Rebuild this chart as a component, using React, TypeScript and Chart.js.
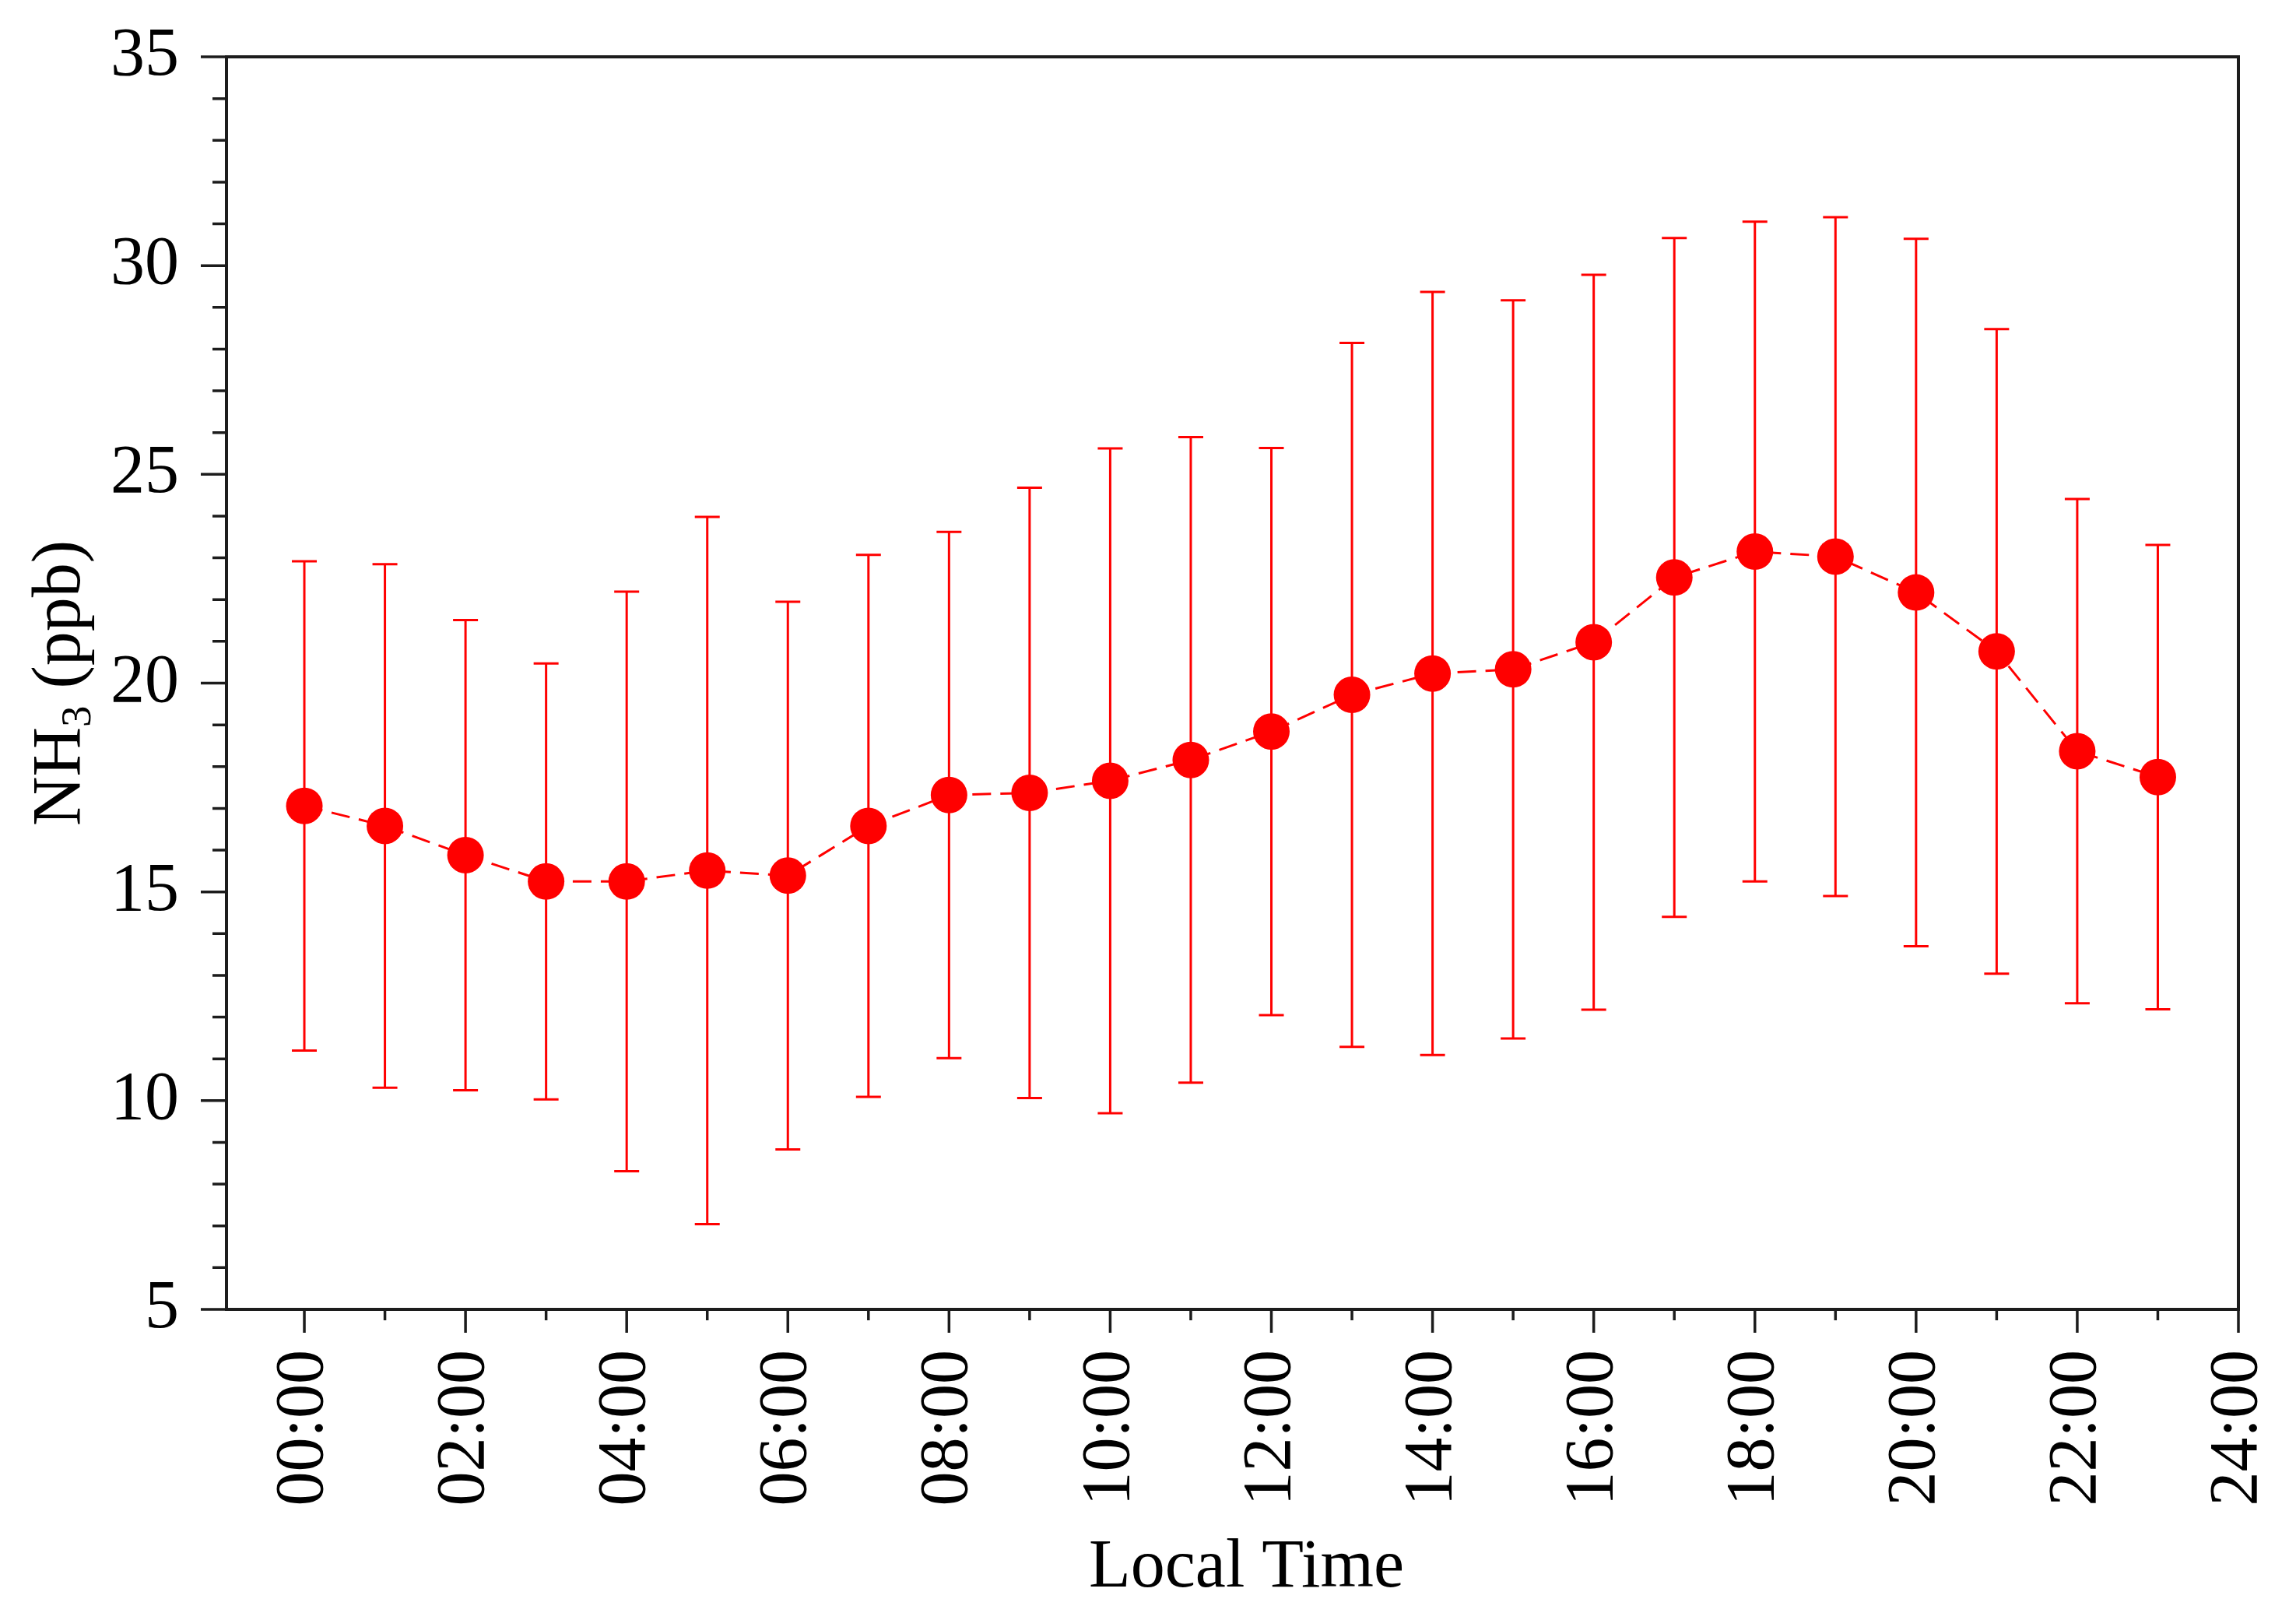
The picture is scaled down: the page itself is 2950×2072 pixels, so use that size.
import React, { useEffect, useRef } from 'react';
import { Chart, registerables } from 'chart.js';

Chart.register(...registerables);

// ---- data ----
const hours = [0, 1, 2, 3, 4, 5, 6, 7, 8, 9, 10, 11, 12, 13, 14, 15, 16, 17, 18, 19, 20, 21, 22, 23];
const nh3Mean = [
  17.06, 16.58, 15.88, 15.25, 15.25, 15.51, 15.39, 16.58, 17.32, 17.37, 17.66, 18.16,
  18.84, 19.72, 20.23, 20.33, 20.98, 22.53, 23.15, 23.03, 22.17, 20.76, 18.37, 17.75,
];
const nh3Sd = [
  5.86, 6.27, 5.63, 5.22, 6.94, 8.47, 6.56, 6.49, 6.30, 7.31, 7.96, 7.73,
  6.79, 8.43, 9.14, 8.84, 8.80, 8.13, 7.90, 8.13, 8.47, 7.72, 6.04, 5.56,
];
const xMajorTicks = [0, 2, 4, 6, 8, 10, 12, 14, 16, 18, 20, 22, 24];
const xTickLabels = [
  '00:00', '02:00', '04:00', '06:00', '08:00', '10:00', '12:00',
  '14:00', '16:00', '18:00', '20:00', '22:00', '24:00',
];
const yMajorTicks = [5, 10, 15, 20, 25, 30, 35];
const xTitle = 'Local Time';
const yTitleMain = 'NH';
const yTitleSub = '3';
const yTitleTail = ' (ppb)';

// ---- styles ----
const W = 2950;
const H = 2072;
const FONT = "'Liberation Serif', 'Times New Roman', serif";
const FONT_SIZE = 88;
const RED = '#ff0000';
const AXIS = '#1c1c1c';

const decorPlugin = {
  id: 'decor',
  beforeDatasetsDraw(chart: any) {
    const { ctx, scales } = chart;
    const x = scales.x;
    const y = scales.y;
    ctx.save();
    ctx.strokeStyle = RED;
    ctx.lineWidth = 3;
    hours.forEach((h, i) => {
      const px = x.getPixelForValue(h);
      const top = y.getPixelForValue(nh3Mean[i] + nh3Sd[i]);
      const bot = y.getPixelForValue(nh3Mean[i] - nh3Sd[i]);
      ctx.beginPath();
      ctx.moveTo(px, top);
      ctx.lineTo(px, bot);
      ctx.moveTo(px - 16, top);
      ctx.lineTo(px + 16, top);
      ctx.moveTo(px - 16, bot);
      ctx.lineTo(px + 16, bot);
      ctx.stroke();
    });
    ctx.restore();
  },
  afterDraw(chart: any) {
    const { ctx, chartArea: a, scales } = chart;
    const x = scales.x;
    const y = scales.y;
    ctx.save();
    // frame
    ctx.strokeStyle = AXIS;
    ctx.lineWidth = 4;
    ctx.lineJoin = 'miter';
    ctx.strokeRect(a.left, a.top, a.right - a.left, a.bottom - a.top);
    // ticks
    ctx.lineWidth = 3.5;
    ctx.beginPath();
    for (let v = Math.ceil(x.min); v <= x.max; v++) {
      const px = x.getPixelForValue(v);
      const len = xMajorTicks.includes(v) ? 30 : 14;
      ctx.moveTo(px, a.bottom);
      ctx.lineTo(px, a.bottom + len);
    }
    for (let v = Math.ceil(y.min); v <= y.max; v++) {
      const py = y.getPixelForValue(v);
      const len = yMajorTicks.includes(v) ? 33 : 18;
      ctx.moveTo(a.left - len, py);
      ctx.lineTo(a.left, py);
    }
    ctx.stroke();

    // x title
    ctx.fillStyle = '#000';
    ctx.font = `${FONT_SIZE}px ${FONT}`;
    ctx.textAlign = 'center';
    ctx.textBaseline = 'alphabetic';
    ctx.fillText(xTitle, (a.left + a.right) / 2 + 18, chart.height - 34);

    // y title with subscript
    const mainFont = `${FONT_SIZE}px ${FONT}`;
    const subFont = `${Math.round(FONT_SIZE * 0.62)}px ${FONT}`;
    ctx.font = mainFont;
    const wMain = ctx.measureText(yTitleMain).width;
    const wTail = ctx.measureText(yTitleTail).width;
    ctx.font = subFont;
    const wSub = ctx.measureText(yTitleSub).width;
    const total = wMain + wSub + wTail;
    ctx.translate(102, (a.top + a.bottom) / 2);
    ctx.rotate(-Math.PI / 2);
    ctx.textAlign = 'left';
    let cx = -total / 2;
    ctx.font = mainFont;
    ctx.fillText(yTitleMain, cx, 0);
    cx += wMain;
    ctx.font = subFont;
    ctx.fillText(yTitleSub, cx, 14);
    cx += wSub;
    ctx.font = mainFont;
    ctx.fillText(yTitleTail, cx, 0);
    ctx.restore();
  },
};

export default function App() {
  const canvasRef = useRef<HTMLCanvasElement | null>(null);

  useEffect(() => {
    document.body.style.margin = '0';
    const canvas = canvasRef.current;
    if (!canvas) return;
    const chart = new Chart(canvas, {
      type: 'scatter',
      data: {
        datasets: [
          {
            label: 'NH3',
            data: hours.map((h, i) => ({ x: h, y: nh3Mean[i] })),
            showLine: true,
            borderColor: RED,
            borderWidth: 3,
            borderDash: [24, 12],
            tension: 0,
            pointRadius: 23.5,
            pointHoverRadius: 23.5,
            pointBackgroundColor: RED,
            pointBorderColor: RED,
            pointBorderWidth: 0,
          },
        ],
      },
      options: {
        animation: false,
        responsive: false,
        devicePixelRatio: 1,
        layout: { padding: { top: 73, right: 74, left: 0, bottom: 0 } },
        plugins: {
          legend: { display: false },
          tooltip: { enabled: false },
        },
        scales: {
          x: {
            type: 'linear',
            min: -0.966,
            max: 24,
            afterBuildTicks: (s: any) => {
              s.ticks = xMajorTicks.map((v) => ({ value: v }));
            },
            afterFit: (s: any) => {
              s.height = 390;
              s.paddingLeft = 0;
              s.paddingRight = 0;
            },
            grid: { display: false },
            border: { display: false },
            ticks: {
              autoSkip: false,
              minRotation: 90,
              maxRotation: 90,
              padding: 44,
              color: '#000',
              font: { family: FONT, size: FONT_SIZE },
              callback: (v: any) => {
                const idx = xMajorTicks.indexOf(Number(v));
                return idx >= 0 ? xTickLabels[idx] : '';
              },
            },
          },
          y: {
            type: 'linear',
            min: 5,
            max: 35,
            afterBuildTicks: (s: any) => {
              s.ticks = yMajorTicks.map((v) => ({ value: v }));
            },
            afterFit: (s: any) => {
              s.width = 291;
              s.paddingTop = 0;
              s.paddingBottom = 0;
            },
            grid: { display: false },
            border: { display: false },
            ticks: {
              padding: 53,
              color: '#000',
              font: { family: FONT, size: FONT_SIZE },
              callback: (v: any) => String(v),
            },
          },
        },
      },
      plugins: [decorPlugin],
    } as any);
    return () => chart.destroy();
  }, []);

  return (
    <div style={{ width: W, height: H, background: '#fff' }}>
      <canvas ref={canvasRef} width={W} height={H} style={{ display: 'block', width: W, height: H }} />
    </div>
  );
}
